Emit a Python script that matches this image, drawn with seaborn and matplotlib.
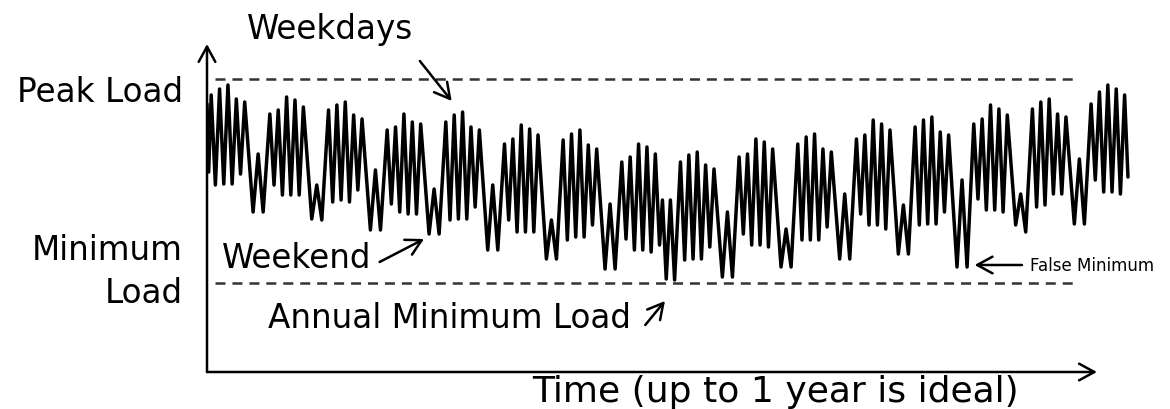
import pandas as pd
import seaborn as sns
import matplotlib.pyplot as plt

# load (arbitrary units), 16 weeks, day 0 = start of the record
weekday_peaks = [
    [277, 283, 287, 273, 270],
    [258, 262, 275, 272, 265],
    [262, 267, 270, 257, 253],
    [242, 245, 258, 250, 248],
    [250, 257, 260, 245, 242],
    [228, 233, 247, 243, 237],
    [232, 238, 242, 227, 223],
    [210, 215, 228, 225, 218],
    [210, 217, 220, 207, 203],
    [215, 218, 233, 230, 223],
    [228, 235, 238, 223, 220],
    [233, 237, 252, 248, 242],
    [245, 252, 255, 240, 237],
    [248, 253, 267, 263, 257],
    [263, 270, 273, 258, 255],
    [268, 280, 287, 283, 277],
]
weekday_troughs = [
    [187, 188, 188, 198],
    [187, 177, 177, 177],
    [170, 172, 170, 182],
    [168, 160, 158, 158],
    [152, 153, 153, 165],
    [152, 140, 140, 140],
    [132, 135, 135, 147],
    [133, 122, 122, 120],
    [112, 113, 113, 125],
    [138, 127, 127, 125],
    [132, 132, 132, 145],
    [158, 147, 147, 143],
    [147, 148, 148, 160],
    [173, 162, 162, 160],
    [165, 167, 178, 178],
    [192, 180, 180, 178],
]
weekend_loads = [
    [160, 218, 160],
    [153, 187, 152],
    [142, 202, 142],
    [138, 183, 138],
    [122, 187, 122],
    [113, 152, 113],
    [103, 168, 103],
    [127, 172, 93, 172, 92],  # long weekend -> annual minimum
    [95, 160, 95],
    [105, 143, 105],
    [113, 178, 113],
    [118, 167, 118],
    [105, 192, 105],  # false minimum
    [147, 178, 140],
    [148, 213, 148],
    [],
]

# time of day inside a week (days)
peak_days = [0.5, 1.5, 2.5, 3.5, 4.5]
trough_days = [1.0, 2.0, 3.0, 4.0]
weekend_days = {3: [5.5, 6.1, 6.7], 5: [5.0, 5.35, 5.8, 6.3, 6.8]}

start_days, start_loads = [0.0, 0.2], [268, 200]
end_days, end_loads = [109.9], [195]

peak_load = 293
min_load = 89

rows = list(zip(start_days, start_loads))
for w in range(len(weekday_peaks)):
    rows += [(7 * w + d, v) for d, v in zip(peak_days, weekday_peaks[w])]
    rows += [(7 * w + d, v) for d, v in zip(trough_days, weekday_troughs[w])]
    we = weekend_loads[w]
    if we:
        rows += [(7 * w + d, v) for d, v in zip(weekend_days[len(we)], we)]
rows += list(zip(end_days, end_loads))
df = pd.DataFrame(rows, columns=["day", "load"]).sort_values("day")

sns.set_style("white")
plt.rcParams["font.family"] = ["DejaVu Sans"]
plt.rcParams["text.color"] = "black"
plt.rcParams["lines.scale_dashes"] = False

fig = plt.figure(figsize=(11.7, 4.1), dpi=100)
ax = fig.add_axes([207 / 1170, 37 / 410, 933 / 1170, 335 / 410])
ax.set_xlim(0, 933 / 8.38)
ax.set_ylim(0, 335)
ax.axis("off")

sns.lineplot(data=df, x="day", y="load", color="black", linewidth=2.5,
             estimator=None, sort=False, ax=ax)

for lvl in [peak_load, min_load]:
    ax.plot([0.95, 103.6], [lvl, lvl], color="#333333", lw=1.8,
            dashes=(7.2, 5.0))

arrow = dict(arrowstyle="->,head_length=0.55,head_width=0.3", color="black",
             lw=1.8, mutation_scale=20, shrinkA=0, shrinkB=0)
# axes
ax.annotate("", xy=(0, 328), xytext=(0, 0), arrowprops=arrow)
ax.annotate("", xy=(106.2, 0), xytext=(0, 0), arrowprops=arrow)

fs = 23.5
fig.text(183 / 1170, 1 - 92 / 410, "Peak Load", ha="right", va="center", fontsize=fs)
fig.text(183 / 1170, 1 - 272 / 410, "Minimum\nLoad", ha="right", va="center",
         fontsize=fs, linespacing=1.4, multialignment="right")
fig.text(330 / 1170, 1 - 30 / 410, "Weekdays", ha="center", va="center", fontsize=fs)
fig.text(222 / 1170, 1 - 258 / 410, "Weekend", ha="left", va="center", fontsize=fs)
fig.text(268 / 1170, 1 - 318 / 410, "Annual Minimum Load", ha="left", va="center", fontsize=fs)
fig.text(1030 / 1170, 1 - 266 / 410, "False Minimum", ha="left", va="center", fontsize=12)
fig.text(775 / 1170, 1 - 402 / 410, "Time (up to 1 year is ideal)", ha="center",
         va="baseline", fontsize=26)

ax.annotate("", xy=(29.2, 271), xytext=(25.4, 311), arrowprops=arrow)
ax.annotate("", xy=(25.9, 133), xytext=(20.6, 110), arrowprops=arrow)
ax.annotate("", xy=(54.65, 71), xytext=(52.3, 47), arrowprops=arrow)
ax.annotate("", xy=(91.6, 107), xytext=(97.25, 107), arrowprops=arrow)

fig.savefig("out.png", dpi=100)
